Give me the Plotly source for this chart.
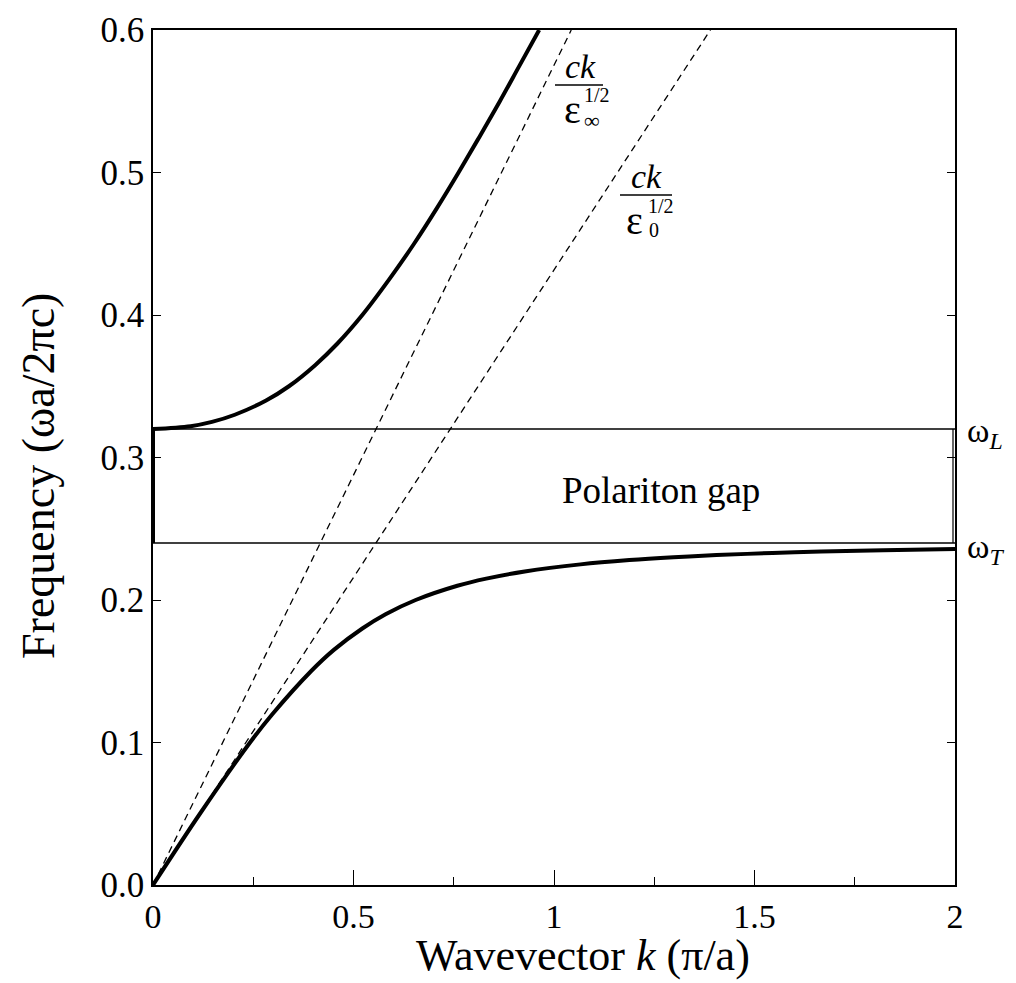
import plotly.graph_objects as go

# ---- data ----
upper_k = [0.0, 0.094, 0.147, 0.204, 0.282, 0.339, 0.405, 0.460, 0.522, 0.589, 0.651, 0.708, 0.762, 0.814, 0.865, 0.914, 0.963]
upper_w = [0.320, 0.322, 0.325, 0.330, 0.340, 0.350, 0.365, 0.380, 0.400, 0.425, 0.450, 0.475, 0.500, 0.525, 0.550, 0.575, 0.600]

lower_k = [0.0, 0.117, 0.242, 0.298, 0.394, 0.451, 0.522, 0.580, 0.655, 0.759, 0.831, 0.927, 1.066, 1.188, 1.298, 1.405, 1.545, 1.666, 1.821, 2.0]
lower_w = [0.0, 0.050, 0.100, 0.120, 0.150, 0.165, 0.180, 0.190, 0.200, 0.210, 0.215, 0.220, 0.225, 0.228, 0.230, 0.2315, 0.233, 0.234, 0.235, 0.2358]

light_inf_k = [0.0, 1.043]
light_inf_w = [0.0, 0.6]
light_0_k = [0.0, 1.39]
light_0_w = [0.0, 0.6]

omega_L = 0.32
omega_T = 0.24
k_range = [0.0, 2.0]

x_ticks = [0, 0.5, 1, 1.5, 2]
x_tick_labels = ["0", "0.5", "1", "1.5", "2"]
y_ticks = [0.0, 0.1, 0.2, 0.3, 0.4, 0.5, 0.6]
y_tick_labels = ["0.0", "0.1", "0.2", "0.3", "0.4", "0.5", "0.6"]

FONT = "Liberation Serif, Times New Roman, serif"

fig = go.Figure()

# gap box lines
fig.add_trace(go.Scatter(x=k_range, y=[omega_L, omega_L], mode="lines",
                         line=dict(color="black", width=1.3), showlegend=False))
fig.add_trace(go.Scatter(x=k_range, y=[omega_T, omega_T], mode="lines",
                         line=dict(color="black", width=1.3), showlegend=False))
fig.add_trace(go.Scatter(x=[k_range[0], k_range[0]], y=[omega_T, omega_L], mode="lines",
                         line=dict(color="black", width=4), showlegend=False))
fig.add_trace(go.Scatter(x=[k_range[1] - 0.005, k_range[1] - 0.005], y=[omega_T, omega_L], mode="lines",
                         line=dict(color="black", width=1.2), showlegend=False))

# light lines
fig.add_trace(go.Scatter(x=light_inf_k, y=light_inf_w, mode="lines",
                         line=dict(color="black", width=1.3, dash="7px,5px"), showlegend=False))
fig.add_trace(go.Scatter(x=light_0_k, y=light_0_w, mode="lines",
                         line=dict(color="black", width=1.3, dash="7px,5px"), showlegend=False))

# polariton branches
fig.add_trace(go.Scatter(x=upper_k, y=upper_w, mode="lines", line_shape="spline",
                         line=dict(color="black", width=4), showlegend=False))
fig.add_trace(go.Scatter(x=lower_k, y=lower_w, mode="lines", line_shape="spline",
                         line=dict(color="black", width=4), showlegend=False))

W, H = 1016, 983
L, R, T, B = 153, 61, 30, 98
pw, ph = W - L - R, H - T - B


def px_x(px):
    return (px - L) / pw


def px_y(py):
    return (H - B - py) / ph


ann = []


def add(text, px, py, size, xanchor="center", yanchor="middle", angle=0):
    ann.append(dict(text=text, x=px_x(px), y=px_y(py), xref="paper", yref="paper", showarrow=False,
                    xanchor=xanchor, yanchor=yanchor, textangle=angle,
                    font=dict(family=FONT, size=size, color="black")))


# fractions
add("<i>ck</i>", 580, 66, 34)
add("ε", 572, 109, 40)
add("1/2", 582, 95, 20, xanchor="left")
add("∞", 582, 120, 22, xanchor="left")

add("<i>ck</i>", 646, 177, 34)
add("ε", 634, 220, 40)
add("1/2", 646, 206, 20, xanchor="left")
add("0", 647, 230, 20, xanchor="left")

add("Polariton gap", 661, 490, 37)
add("ω<sub><i>L</i></sub>", 965, 433, 34, xanchor="left")
add("ω<sub><i>T</i></sub>", 965, 549, 34, xanchor="left")

add("Wavevector <i>k</i> (π/a)", 583, 982, 44, yanchor="bottom")
add("Frequency (ωa/2πc)", 38, 476, 46, angle=-90)

shapes = [
    dict(type="line", xref="paper", yref="paper", x0=px_x(555), x1=px_x(603), y0=px_y(85), y1=px_y(85),
         line=dict(color="black", width=1.5)),
    dict(type="line", xref="paper", yref="paper", x0=px_x(620), x1=px_x(672), y0=px_y(195), y1=px_y(195),
         line=dict(color="black", width=1.5)),
]

fig.update_layout(
    width=W, height=H,
    margin=dict(l=L, r=R, t=T, b=B, pad=0),
    paper_bgcolor="white", plot_bgcolor="white",
    font=dict(family=FONT, size=36, color="black"),
    annotations=ann, shapes=shapes,
    xaxis=dict(range=[0, 2], tickvals=x_ticks, ticktext=x_tick_labels,
               ticks="inside", ticklen=15, tickwidth=1.3, tickcolor="black",
               minor=dict(tickvals=[0.25, 0.75, 1.25, 1.75], ticks="inside", ticklen=8,
                          tickwidth=1.3, tickcolor="black"),
               showline=True, linecolor="black", linewidth=1.5, mirror=True,
               showgrid=False, zeroline=False, tickfont=dict(size=34)),
    yaxis=dict(range=[0, 0.6], tickvals=y_ticks, ticktext=y_tick_labels,
               ticks="inside", ticklen=8, tickwidth=1.3, tickcolor="black",
               showline=True, linecolor="black", linewidth=1.5, mirror="ticks",
               showgrid=False, zeroline=False, tickfont=dict(size=35)),
)

fig.write_html("out.html")
